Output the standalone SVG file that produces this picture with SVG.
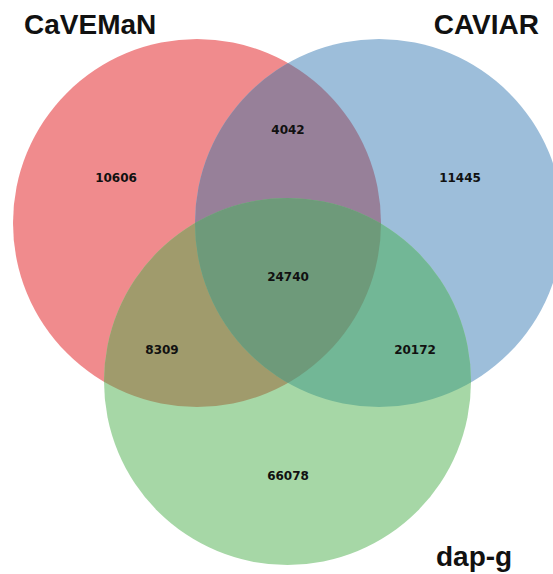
<svg xmlns="http://www.w3.org/2000/svg" width="553" height="574" viewBox="0 0 553 574">
<style>
.lbl{font-family:"Liberation Sans",Arial,sans-serif;font-weight:bold;font-size:28px;fill:#111}
.num{font-family:"DejaVu Sans",sans-serif;font-weight:bold;font-size:12px;fill:#111;text-anchor:middle}
</style>
<defs>
<clipPath id="cR"><circle cx="197" cy="223" r="184"/></clipPath>
<clipPath id="cB"><circle cx="379" cy="223" r="184"/></clipPath>
<clipPath id="cG"><circle cx="287.5" cy="381.5" r="183.5"/></clipPath>
</defs>
<rect width="553" height="574" fill="#fff"/>
<g id="sets">
<circle id="caveman" cx="197" cy="223" r="184" fill="#F08B8D"/>
<circle id="caviar" cx="379" cy="223" r="184" fill="#9DBEDA"/>
<circle id="dapg" cx="287.5" cy="381.5" r="183.5" fill="#A6D7A6"/>
<circle cx="379" cy="223" r="184" fill="#978099" clip-path="url(#cR)"/>
<circle cx="287.5" cy="381.5" r="183.5" fill="#A09B6C" clip-path="url(#cR)"/>
<circle cx="287.5" cy="381.5" r="183.5" fill="#72B796" clip-path="url(#cB)"/>
<g clip-path="url(#cR)"><circle cx="287.5" cy="381.5" r="183.5" fill="#6E9A7A" clip-path="url(#cB)"/></g>
</g>
<g id="labels">
<text class="lbl" x="24" y="34">CaVEMaN</text>
<text class="lbl" x="539" y="34" text-anchor="end">CAVIAR</text>
<text class="lbl" x="436" y="566">dap-g</text>
</g>
<g id="counts">
<text class="num" x="116" y="182">10606</text>
<text class="num" x="288" y="134">4042</text>
<text class="num" x="460" y="182">11445</text>
<text class="num" x="288" y="281">24740</text>
<text class="num" x="162" y="354">8309</text>
<text class="num" x="415" y="354">20172</text>
<text class="num" x="288" y="480">66078</text>
</g>
</svg>
